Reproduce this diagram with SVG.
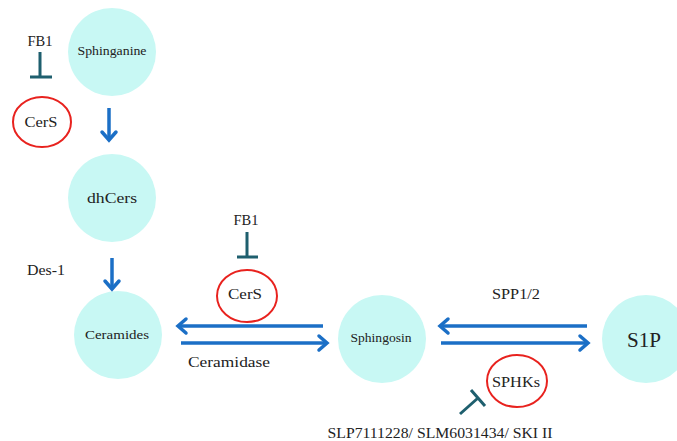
<svg xmlns="http://www.w3.org/2000/svg" width="677" height="441" viewBox="0 0 677 441">
<style>
.node{fill:#c8f8f4}
.enz{fill:none;stroke:#e8221e;stroke-width:2}
.t{font-family:"Liberation Serif","DejaVu Serif",serif;fill:#222;text-anchor:middle}
.arr{stroke:#1b6fc6;stroke-width:3.5;fill:none;stroke-linecap:butt}
.head{stroke:#1b6fc6;stroke-width:3.5;fill:none;stroke-linecap:round;stroke-linejoin:miter}
.inh{stroke:#1e5f6e;stroke-width:3;fill:none}
</style>
<rect width="677" height="441" fill="#fff"/>
<g id="sphinganine"><circle class="node" cx="112" cy="52" r="44"/><text class="t" x="112" y="55" font-size="12" textLength="69" lengthAdjust="spacingAndGlyphs">Sphinganine</text></g>
<g id="dhcers"><circle class="node" cx="112" cy="198" r="44"/><text class="t" x="112" y="203" font-size="15" textLength="50" lengthAdjust="spacingAndGlyphs">dhCers</text></g>
<g id="ceramides"><circle class="node" cx="118" cy="335" r="44"/><text class="t" x="117" y="339" font-size="13" textLength="64" lengthAdjust="spacingAndGlyphs">Ceramides</text></g>
<g id="sphingosin"><circle class="node" cx="382" cy="339" r="44"/><text class="t" x="381" y="342" font-size="12" textLength="61" lengthAdjust="spacingAndGlyphs">Sphingosin</text></g>
<g id="s1p"><circle class="node" cx="646" cy="339" r="44"/><text class="t" x="644" y="347" font-size="20" textLength="34" lengthAdjust="spacingAndGlyphs">S1P</text></g>
<g id="cers1"><ellipse class="enz" cx="42" cy="122" rx="29" ry="25"/><text class="t" x="41" y="127" font-size="15" textLength="33" lengthAdjust="spacingAndGlyphs">CerS</text></g>
<g id="cers2"><ellipse class="enz" cx="247" cy="296" rx="30" ry="26"/><text class="t" x="245" y="299" font-size="15" textLength="34" lengthAdjust="spacingAndGlyphs">CerS</text></g>
<g id="sphks"><ellipse class="enz" cx="517" cy="381" rx="30" ry="26"/><text class="t" x="516" y="387" font-size="15" textLength="48" lengthAdjust="spacingAndGlyphs">SPHKs</text></g>
<g id="labels">
<text class="t" x="40" y="46" font-size="15" textLength="25" lengthAdjust="spacingAndGlyphs">FB1</text>
<text class="t" x="246" y="225" font-size="15" textLength="25" lengthAdjust="spacingAndGlyphs">FB1</text>
<text class="t" x="46" y="275" font-size="15" textLength="38" lengthAdjust="spacingAndGlyphs">Des-1</text>
<text class="t" x="229" y="367" font-size="15" textLength="82" lengthAdjust="spacingAndGlyphs">Ceramidase</text>
<text class="t" x="516" y="299" font-size="15" textLength="48" lengthAdjust="spacingAndGlyphs">SPP1/2</text>
<text class="t" x="440" y="438" font-size="15" textLength="225" lengthAdjust="spacingAndGlyphs">SLP7111228/ SLM6031434/ SKI II</text>
</g>
<g id="connectors">
<line class="arr" x1="109" y1="108" x2="109" y2="139"/><polyline class="head" points="102,132 109,140 116,132"/>
<line class="arr" x1="112" y1="258" x2="112" y2="288"/><polyline class="head" points="105,281 112,289 119,281"/>
<line class="arr" x1="323" y1="326" x2="179" y2="326"/><polyline class="head" points="186,319 178,326 186,333"/>
<line class="arr" x1="181" y1="343" x2="326" y2="343"/><polyline class="head" points="319,336 327,343 319,350"/>
<line class="arr" x1="587" y1="326" x2="441" y2="326"/><polyline class="head" points="448,319 440,326 448,333"/>
<line class="arr" x1="441" y1="343" x2="587" y2="343"/><polyline class="head" points="580,336 588,343 580,350"/>
<path class="inh" d="M40 52V77M30 77H52"/>
<path class="inh" d="M247 232V257M237 257H258"/>
<path class="inh" d="M460 414L478 398M471 390L485 406"/>
</g>
</svg>
